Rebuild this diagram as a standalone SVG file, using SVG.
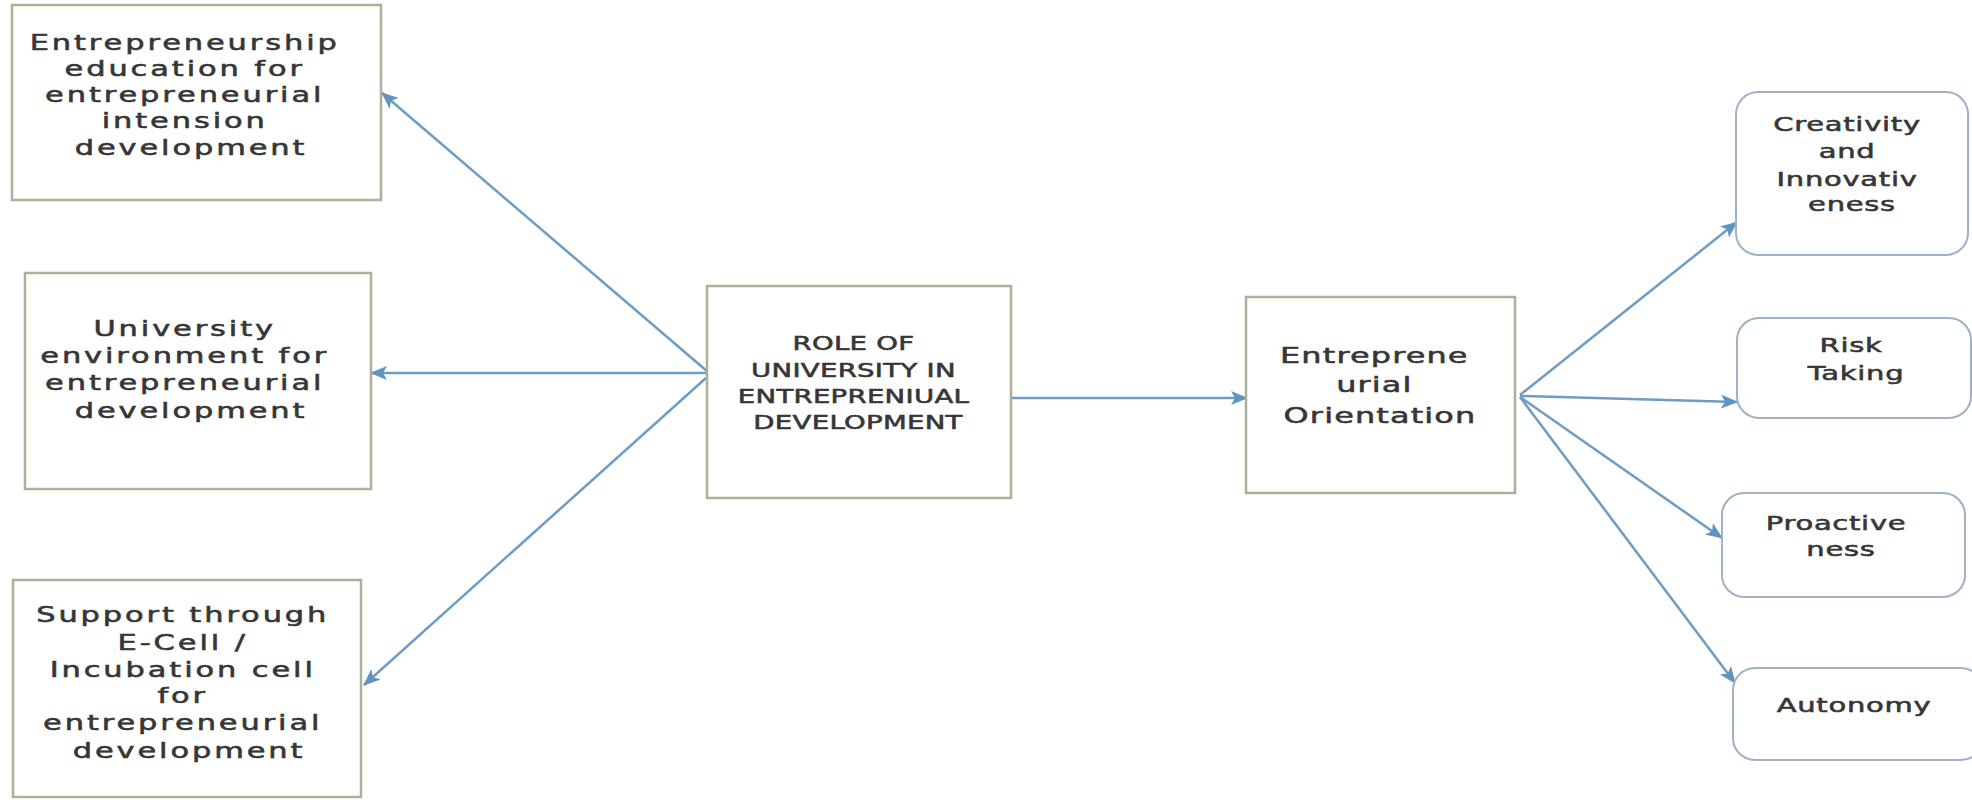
<svg xmlns="http://www.w3.org/2000/svg" width="1972" height="800" viewBox="0 0 1972 800">
  <defs>
    <marker id="arrow" markerUnits="userSpaceOnUse" markerWidth="18" markerHeight="14" refX="16" refY="7" orient="auto">
      <path d="M0,0 L17,7 L0,14 L4,7 z" fill="#5f93c0"/>
    </marker>
    <style>
      .box { fill: #ffffff; stroke: #a9b196; stroke-width: 2.5; }
      .rbox { fill: #ffffff; stroke: #9fb1c6; stroke-width: 2; }
      .lbl { font-family: "DejaVu Sans", "Open Sans", sans-serif; fill: #363636; stroke: #363636; stroke-width: 0.55; text-anchor: middle; }
      .side { font-size: 21px; letter-spacing: 2px; }
      .role { font-size: 19px; letter-spacing: 0.2px; }
      .eo { font-size: 22px; letter-spacing: 0.8px; }
      .dim { font-size: 20px; letter-spacing: 0.5px; }
      .conn { stroke: #6d9cc4; stroke-width: 2.5; fill: none; marker-end: url(#arrow); }
    </style>
  </defs>
  <rect width="1972" height="800" fill="#ffffff"/>

  <!-- connectors -->
  <g id="connectors">
    <line class="conn" x1="708" y1="372" x2="382" y2="93"/>
    <line class="conn" x1="708" y1="373" x2="371" y2="373"/>
    <line class="conn" x1="706" y1="378" x2="364" y2="685"/>
    <line class="conn" x1="1008" y1="398" x2="1247" y2="398"/>
    <line class="conn" x1="1520" y1="395" x2="1737" y2="222"/>
    <line class="conn" x1="1520" y1="396" x2="1737" y2="402"/>
    <line class="conn" x1="1520" y1="397" x2="1722" y2="538"/>
    <line class="conn" x1="1520" y1="397" x2="1735" y2="683"/>
  </g>

  <!-- left column -->
  <g id="node-education">
    <rect class="box" x="12" y="5" width="369" height="195"/>
    <g transform="translate(191,0) scale(1.45,1)">
      <text class="lbl side">
        <tspan x="0" y="50">Entrepreneurship</tspan>
        <tspan x="0" y="76">education for</tspan>
        <tspan x="0" y="102">entrepreneurial</tspan>
        <tspan x="0" y="128">intension</tspan>
        <tspan x="0" y="155">development</tspan>
      </text>
    </g>
  </g>

  <g id="node-environment">
    <rect class="box" x="25" y="273" width="346" height="216"/>
    <g transform="translate(191,0) scale(1.45,1)">
      <text class="lbl side">
        <tspan x="0" y="336">University</tspan>
        <tspan x="0" y="363">environment for</tspan>
        <tspan x="0" y="390">entrepreneurial</tspan>
        <tspan x="0" y="418">development</tspan>
      </text>
    </g>
  </g>

  <g id="node-support">
    <rect class="box" x="13" y="580" width="348" height="217"/>
    <g transform="translate(189,0) scale(1.45,1)">
      <text class="lbl side">
        <tspan x="0" y="622">Support through</tspan>
        <tspan x="0" y="650">E-Cell /</tspan>
        <tspan x="0" y="677">Incubation cell</tspan>
        <tspan x="0" y="703">for</tspan>
        <tspan x="0" y="730">entrepreneurial</tspan>
        <tspan x="0" y="758">development</tspan>
      </text>
    </g>
  </g>

  <!-- centre -->
  <g id="node-role">
    <rect class="box" x="707" y="286" width="304" height="212"/>
    <g transform="translate(858,0) scale(1.45,1)">
      <text class="lbl role">
        <tspan x="0" y="350">ROLE OF</tspan>
        <tspan x="0" y="377">UNIVERSITY IN</tspan>
        <tspan x="0" y="403">ENTREPRENIUAL</tspan>
        <tspan x="0" y="429">DEVELOPMENT</tspan>
      </text>
    </g>
  </g>

  <g id="node-orientation">
    <rect class="box" x="1246" y="297" width="269" height="196"/>
    <g transform="translate(1380,0) scale(1.45,1)">
      <text class="lbl eo">
        <tspan x="0" y="363">Entreprene</tspan>
        <tspan x="0" y="392">urial</tspan>
        <tspan x="0" y="423">Orientation</tspan>
      </text>
    </g>
  </g>

  <!-- right column -->
  <g id="node-creativity">
    <rect class="rbox" x="1736" y="92" width="232" height="163" rx="22"/>
    <g transform="translate(1852,0) scale(1.45,1)">
      <text class="lbl dim">
        <tspan x="0" y="131">Creativity</tspan>
        <tspan x="0" y="158">and</tspan>
        <tspan x="0" y="186">Innovativ</tspan>
        <tspan x="0" y="211">eness</tspan>
      </text>
    </g>
  </g>

  <g id="node-risk">
    <rect class="rbox" x="1737" y="318" width="234" height="100" rx="22"/>
    <g transform="translate(1856,0) scale(1.45,1)">
      <text class="lbl dim">
        <tspan x="0" y="352">Risk</tspan>
        <tspan x="0" y="380">Taking</tspan>
      </text>
    </g>
  </g>

  <g id="node-proactive">
    <rect class="rbox" x="1722" y="493" width="243" height="104" rx="22"/>
    <g transform="translate(1841,0) scale(1.45,1)">
      <text class="lbl dim">
        <tspan x="0" y="530">Proactive</tspan>
        <tspan x="0" y="556">ness</tspan>
      </text>
    </g>
  </g>

  <g id="node-autonomy">
    <rect class="rbox" x="1733" y="668" width="250" height="92" rx="22"/>
    <g transform="translate(1854,0) scale(1.45,1)">
      <text class="lbl dim">
        <tspan x="0" y="712">Autonomy</tspan>
      </text>
    </g>
  </g>
</svg>
